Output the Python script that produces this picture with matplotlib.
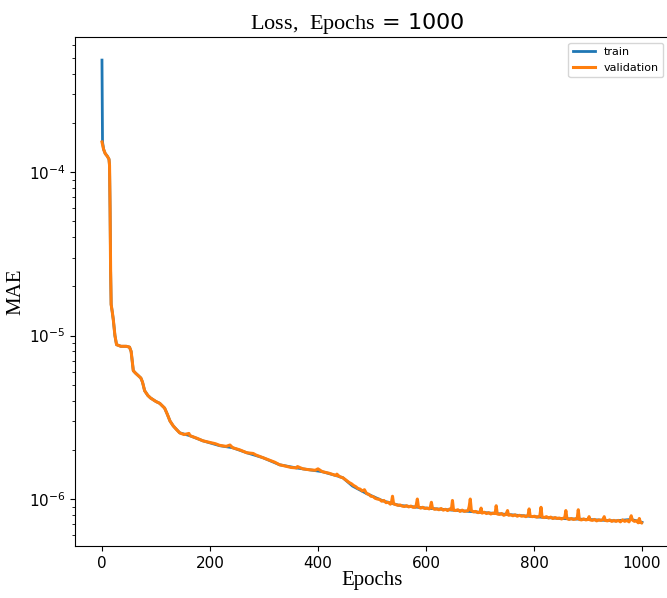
import matplotlib
matplotlib.use('Agg')
import matplotlib.pyplot as plt

plt.rcParams['mathtext.fontset'] = 'custom'
plt.rcParams['mathtext.rm'] = 'Liberation Serif'

n_epochs = 1000

# training loss (smooth, mostly hidden under validation)
train_epochs = [0, 1, 3, 6, 10, 13, 14, 15, 16, 17, 19, 21, 24, 27, 35, 45, 51, 54, 56, 58,
                62, 67, 72, 75, 79, 85, 90, 100, 107, 116, 121, 126, 132, 144, 163, 187,
                218, 242, 268, 298, 329, 360, 384, 408, 434, 446, 464, 490, 520, 550, 600,
                650, 700, 750, 800, 850, 900, 950, 980, 1000]
train_loss = [4.85e-4, 1.53e-4, 1.38e-4, 1.30e-4, 1.25e-4, 1.20e-4, 1.10e-4, 6.0e-5, 2.5e-5,
              1.55e-5, 1.40e-5, 1.25e-5, 1.0e-5, 8.8e-6, 8.6e-6, 8.6e-6, 8.5e-6, 8.0e-6,
              7.0e-6, 6.1e-6, 5.9e-6, 5.7e-6, 5.5e-6, 5.2e-6, 4.6e-6, 4.3e-6, 4.15e-6,
              3.95e-6, 3.85e-6, 3.6e-6, 3.3e-6, 3.0e-6, 2.8e-6, 2.54e-6, 2.44e-6, 2.27e-6,
              2.12e-6, 2.06e-6, 1.92e-6, 1.79e-6, 1.62e-6, 1.55e-6, 1.51e-6, 1.47e-6,
              1.39e-6, 1.35e-6, 1.20e-6, 1.08e-6, 9.75e-7, 9.15e-7, 8.8e-7, 8.55e-7, 8.3e-7,
              8.05e-7, 7.8e-7, 7.6e-7, 7.5e-7, 7.35e-7, 7.5e-7, 7.2e-7]

# validation loss, first part (smooth descent)
val_epochs_head = [0, 3, 6, 10, 13, 14, 15, 16, 17, 19, 21, 24, 27, 35, 45, 51, 54, 56, 58, 62,
                   67, 72, 75, 79, 85, 90, 100, 107, 116, 121, 126, 132, 138, 144, 152, 161,
                   163, 175, 187, 200, 210, 218, 230, 237, 242, 255, 268, 280, 285, 298, 310,
                   320, 329, 340, 350, 360, 362, 372, 384, 395, 400, 408, 420, 434, 435, 440]
val_loss_head = [1.53e-4, 1.38e-4, 1.30e-4, 1.25e-4, 1.20e-4, 1.10e-4, 6.0e-5, 2.5e-5,
                 1.55e-5, 1.40e-5, 1.25e-5, 1.0e-5, 8.8e-6, 8.6e-6, 8.6e-6, 8.5e-6, 8.0e-6,
                 7.0e-6, 6.1e-6, 5.9e-6, 5.7e-6, 5.5e-6, 5.2e-6, 4.6e-6, 4.3e-6, 4.15e-6,
                 3.95e-6, 3.85e-6, 3.6e-6, 3.3e-6, 3.0e-6, 2.8e-6, 2.66e-6, 2.54e-6, 2.48e-6,
                 2.52e-6, 2.44e-6, 2.36e-6, 2.27e-6, 2.22e-6, 2.18e-6, 2.13e-6, 2.10e-6,
                 2.14e-6, 2.06e-6, 2.0e-6, 1.92e-6, 1.90e-6, 1.86e-6, 1.79e-6, 1.73e-6,
                 1.68e-6, 1.62e-6, 1.59e-6, 1.56e-6, 1.55e-6, 1.58e-6, 1.53e-6, 1.51e-6,
                 1.50e-6, 1.53e-6, 1.47e-6, 1.44e-6, 1.39e-6, 1.42e-6, 1.37e-6]

# validation loss, noisy tail
val_epochs_tail = [446, 450, 454, 458, 462, 466, 470, 474, 478, 482, 486, 490, 494, 498, 502,
                   506, 510, 514, 518, 522, 526, 530, 534, 536, 538, 540, 544, 548, 552, 556,
                   560, 564, 568, 572, 576, 580, 582, 584, 586, 590, 594, 598, 602, 606, 608,
                   610, 612, 616, 620, 624, 628, 632, 636, 640, 644, 647, 649, 651, 655, 659,
                   663, 667, 671, 675, 678, 680, 682, 684, 688, 692, 696, 700, 702, 704, 708,
                   712, 716, 720, 724, 728, 730, 732, 736, 740, 744, 748, 751, 753, 757, 761,
                   765, 769, 773, 777, 781, 785, 789, 791, 793, 797, 801, 805, 809, 811, 813,
                   815, 819, 823, 827, 831, 835, 839, 843, 847, 851, 855, 857, 859, 861, 865,
                   869, 873, 877, 880, 882, 884, 888, 892, 896, 900, 902, 904, 908, 912, 916,
                   920, 924, 928, 930, 932, 936, 940, 944, 948, 952, 956, 960, 964, 968, 972,
                   976, 978, 980, 982, 986, 990, 993, 995, 997, 999]
val_loss_tail = [13.5e-7, 13.2e-7, 12.9e-7, 12.6e-7, 12.4e-7, 12.1e-7, 11.9e-7, 11.6e-7,
                 11.5e-7, 11.2e-7, 11.4e-7, 10.8e-7, 10.7e-7, 10.4e-7, 10.35e-7, 10.1e-7,
                 10.0e-7, 9.95e-7, 9.7e-7, 9.8e-7, 9.5e-7, 9.55e-7, 9.3e-7, 9.5e-7, 10.4e-7,
                 9.35e-7, 9.25e-7, 9.15e-7, 9.2e-7, 9.05e-7, 9.0e-7, 9.1e-7, 8.95e-7,
                 9.05e-7, 8.9e-7, 8.9e-7, 9.2e-7, 10.0e-7, 8.95e-7, 8.8e-7, 8.9e-7, 8.75e-7,
                 8.8e-7, 8.7e-7, 8.9e-7, 9.55e-7, 8.8e-7, 8.65e-7, 8.7e-7, 8.6e-7, 8.75e-7,
                 8.55e-7, 8.65e-7, 8.5e-7, 8.7e-7, 8.6e-7, 9.8e-7, 8.55e-7, 8.5e-7, 8.6e-7,
                 8.4e-7, 8.55e-7, 8.4e-7, 8.45e-7, 8.5e-7, 9.0e-7, 10.0e-7, 8.5e-7, 8.35e-7,
                 8.4e-7, 8.25e-7, 8.3e-7, 8.8e-7, 8.2e-7, 8.3e-7, 8.15e-7, 8.25e-7, 8.1e-7,
                 8.2e-7, 8.15e-7, 9.1e-7, 8.1e-7, 8.05e-7, 8.15e-7, 7.95e-7, 8.05e-7, 8.5e-7,
                 7.95e-7, 8.0e-7, 7.9e-7, 8.0e-7, 7.85e-7, 7.95e-7, 7.85e-7, 7.9e-7, 7.8e-7,
                 7.95e-7, 8.7e-7, 7.85e-7, 7.8e-7, 7.85e-7, 7.75e-7, 7.8e-7, 7.95e-7, 8.9e-7,
                 7.75e-7, 7.7e-7, 7.8e-7, 7.65e-7, 7.75e-7, 7.6e-7, 7.7e-7, 7.6e-7, 7.65e-7,
                 7.55e-7, 7.65e-7, 7.7e-7, 8.5e-7, 7.6e-7, 7.5e-7, 7.6e-7, 7.5e-7, 7.55e-7,
                 7.6e-7, 8.6e-7, 7.5e-7, 7.45e-7, 7.55e-7, 7.45e-7, 7.5e-7, 7.8e-7, 7.45e-7,
                 7.4e-7, 7.5e-7, 7.35e-7, 7.45e-7, 7.4e-7, 7.5e-7, 7.8e-7, 7.4e-7, 7.35e-7,
                 7.45e-7, 7.3e-7, 7.4e-7, 7.3e-7, 7.4e-7, 7.25e-7, 7.45e-7, 7.3e-7, 7.4e-7,
                 7.25e-7, 7.5e-7, 7.9e-7, 7.45e-7, 7.3e-7, 7.35e-7, 7.15e-7, 7.6e-7, 7.2e-7,
                 7.15e-7]

val_epochs = val_epochs_head + val_epochs_tail
val_loss = val_loss_head + val_loss_tail

fig = plt.figure(figsize=(6.67, 5.98), dpi=100)
ax = fig.add_axes([0.1124, 0.087, 0.8906, 0.8512])
ax.plot(train_epochs, train_loss, lw=2, label='train')
ax.plot(val_epochs, val_loss, lw=2.2, label='validation')
ax.set_yscale('log')
ax.set_xlim(-50, 1050)
ax.set_xticks([0, 200, 400, 600, 800, 1000])
ax.tick_params(labelsize=11)
ax.set_title(r'$\mathrm{Loss,\ Epochs}$ = ' + str(n_epochs), fontsize=16, pad=6, x=0.475)
ax.set_xlabel('Epochs', family='Liberation Serif', fontsize=15, labelpad=0)
ax.set_ylabel('MAE', family='Liberation Serif', fontsize=15, labelpad=2)
ax.legend(loc='upper right', fontsize=8)

fig.savefig('out.png', dpi=100)
